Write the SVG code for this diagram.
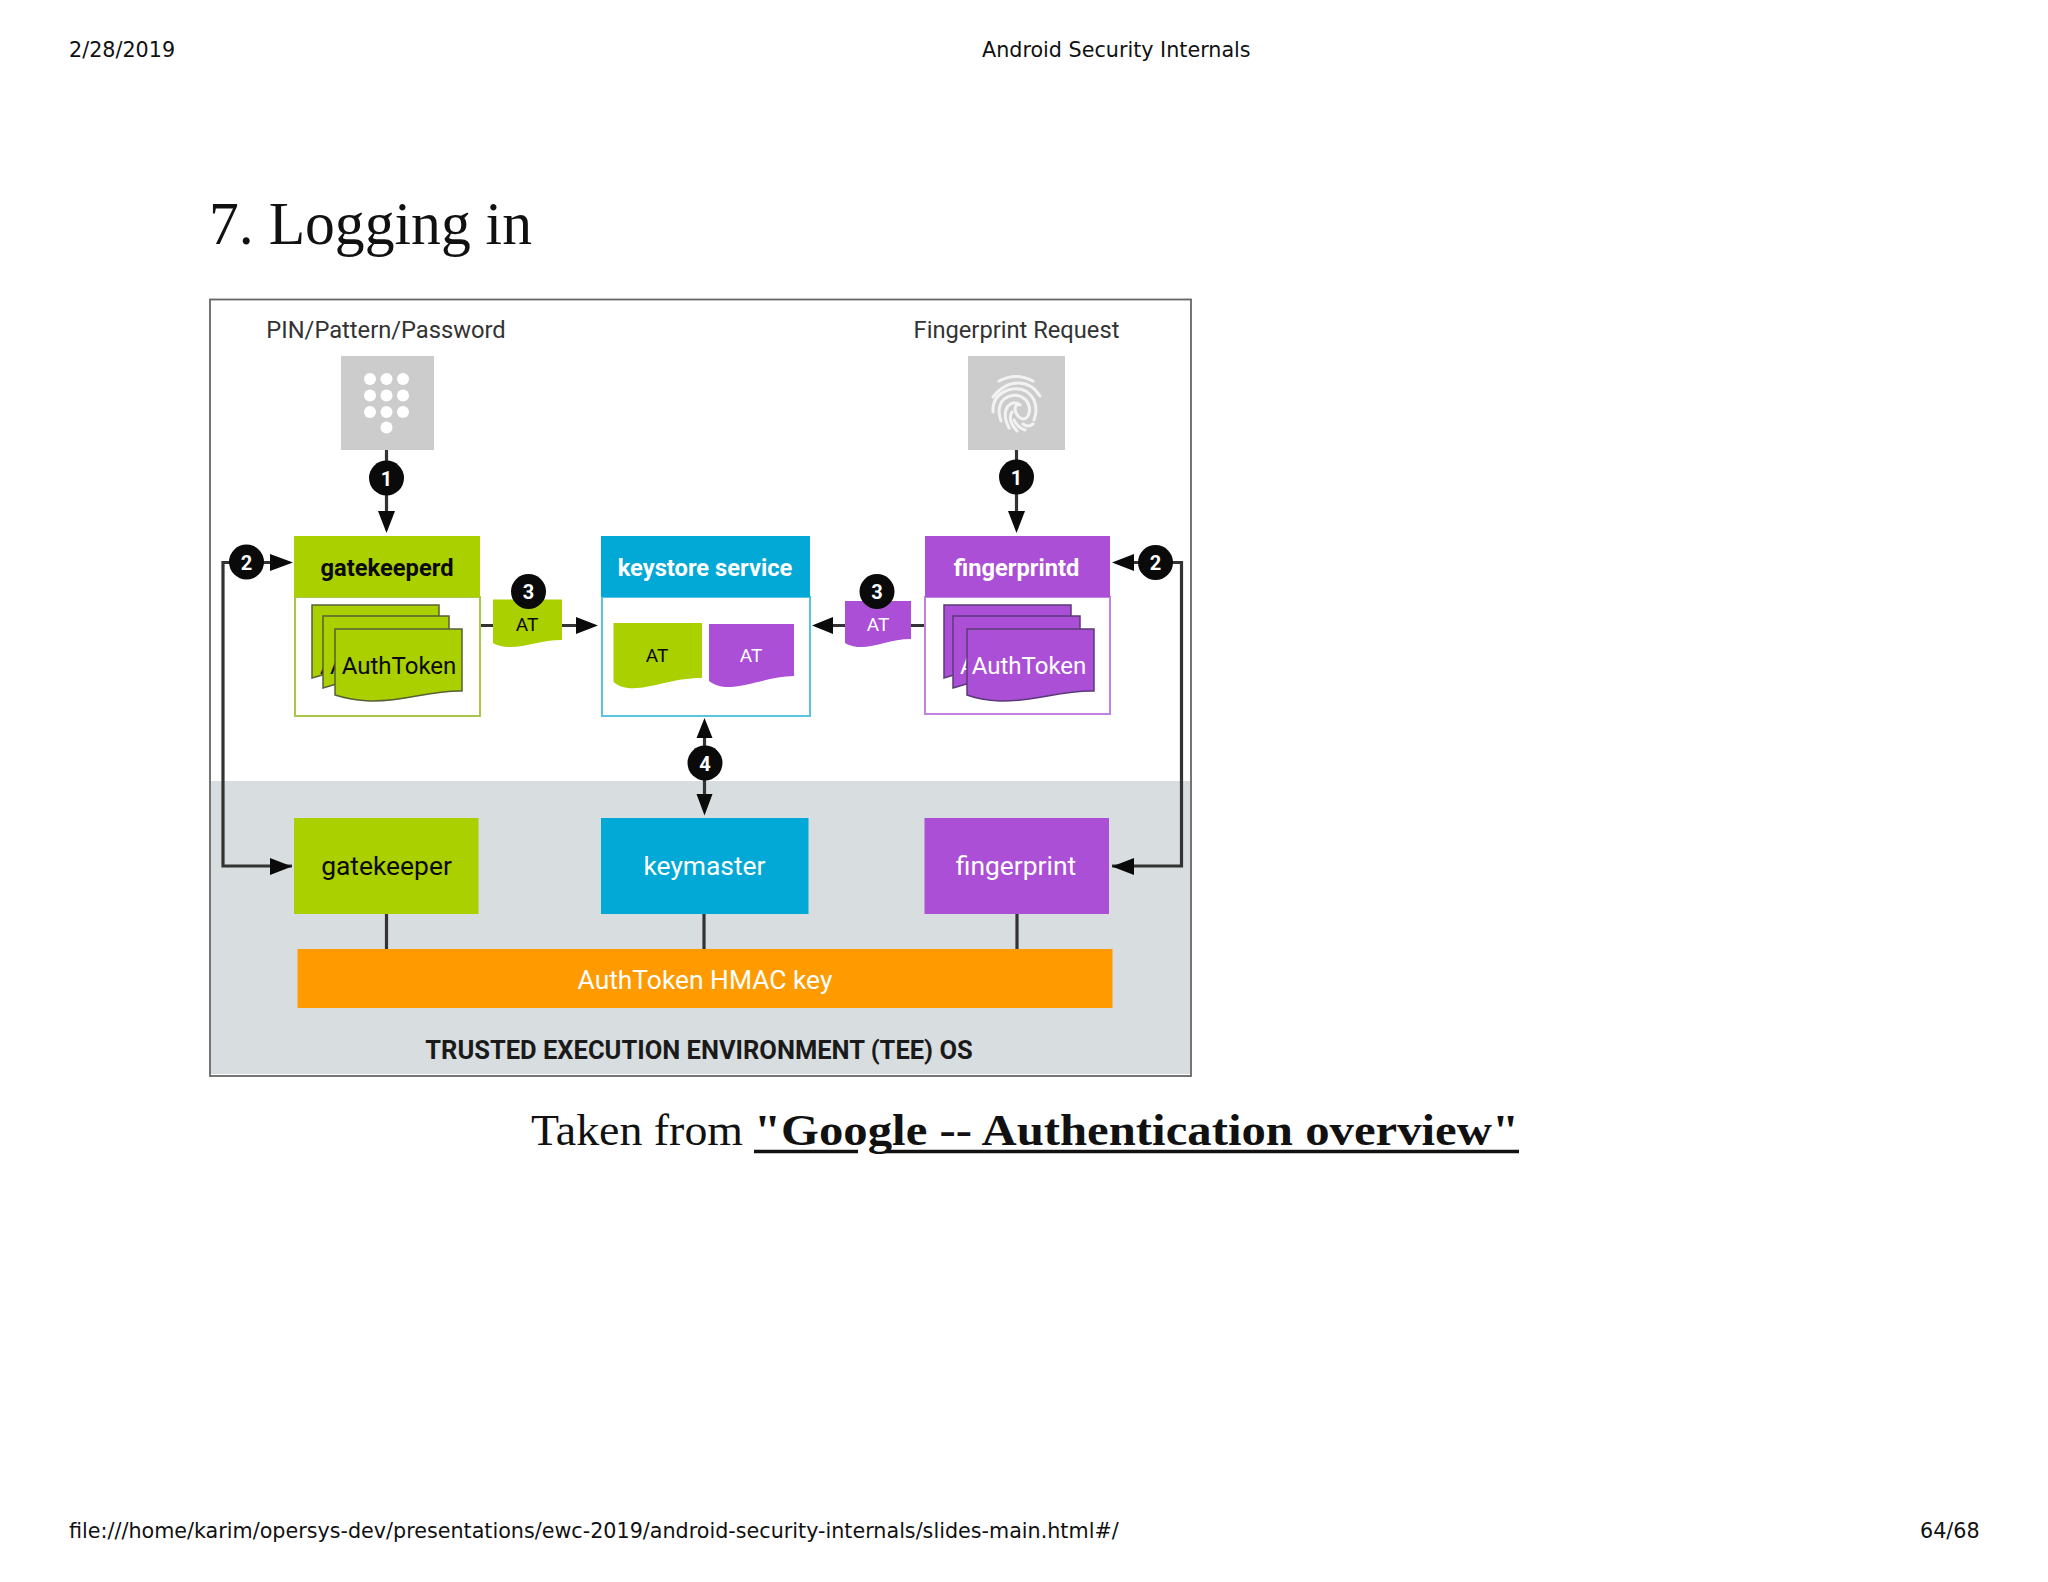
<svg xmlns="http://www.w3.org/2000/svg" width="2048" height="1582" viewBox="0 0 2048 1582">
<style>
.page{font-family:"DejaVu Sans",sans-serif;font-size:20.7px;fill:#111}
.ser{font-family:"Liberation Serif",serif;fill:#111}
.r{font-family:Roboto,"Liberation Sans",sans-serif;text-anchor:middle}
.lbl{font-size:23.7px;fill:#333}
.hd{font-size:23.7px;font-weight:700}
.box{font-size:26.4px}
.tok{font-size:24px}
.at{font-size:19px}
.num{font-size:20px;font-weight:700;fill:#fff}
.w{fill:#fff}.k{fill:#0a0a0a}
.g{fill:#aad000}.b{fill:#02a9d6}.p{fill:#ab4fd6}
.ln{fill:none;stroke:#333;stroke-width:3.2}
.sd{stroke:#55603a;stroke-width:1.5}
.sp{stroke:#5b3a78;stroke-width:1.5}
.fp{fill:none;stroke:#f2f2f2;stroke-width:3;stroke-linecap:round}
</style>
<rect width="2048" height="1582" fill="#fff"/>
<text class="page" x="69" y="57">2/28/2019</text>
<text class="page" x="982" y="57">Android Security Internals</text>
<text class="page" x="69" y="1538">file:///home/karim/opersys-dev/presentations/ewc-2019/android-security-internals/slides-main.html#/</text>
<text class="page" x="1920" y="1538">64/68</text>
<text class="ser" x="209" y="244" font-size="62" textLength="323" lengthAdjust="spacingAndGlyphs">7. Logging in</text>
<g id="frame"><rect x="210" y="299.5" width="981" height="776.5" fill="#fff" stroke="#666" stroke-width="1.8"/>
<rect x="211" y="781" width="979" height="293" fill="#d8dde0"/></g>
<g id="connectors">
<path class="ln" d="M386.500 450V515"/><path class="k" d="M378 511h17l-8.500 22z"/>
<path class="ln" d="M1016.500 450V515"/><path class="k" d="M1008 511h17l-8.500 22z"/>
<path class="ln" d="M292 866H223V562.500H272"/><path class="k" d="M270 554v17l23-8.500zM270 858v17l22-8.500z"/>
<path class="ln" d="M1112 866H1181.500V562.500H1132"/><path class="k" d="M1134 554v17l-22-8.500zM1134 858v17l-22-8.500z"/>
<path class="ln" d="M480 625.500H580"/><path class="k" d="M576 617v17l22-8.500z"/>
<path class="ln" d="M925 625.500H830"/><path class="k" d="M833 617v17l-21-8.500z"/>
<path class="ln" d="M704.500 735V798"/><path class="k" d="M696.500 738h16l-8-20zM696.500 794h16l-8 21.500z"/>
<path class="ln" stroke-width="2.500" d="M386.500 913V949M704 913V949M1017 913V949"/>
</g>
<g id="keypad"><rect x="341" y="356" width="93" height="94" fill="#ccc"/>
<g class="w"><circle cx="370" cy="379" r="6"/><circle cx="386.500" cy="379" r="6"/><circle cx="403" cy="379" r="6"/><circle cx="370" cy="395.500" r="6"/><circle cx="386.500" cy="395.500" r="6"/><circle cx="403" cy="395.500" r="6"/><circle cx="370" cy="412" r="6"/><circle cx="386.500" cy="412" r="6"/><circle cx="403" cy="412" r="6"/><circle cx="386.500" cy="427.500" r="6"/></g></g>
<text class="r lbl" x="386" y="338">PIN/Pattern/Password</text>
<g id="fingerprint-sensor"><rect x="968" y="356" width="97" height="94" fill="#ccc"/>
<path class="fp" d="M999 381Q1016 372 1033 381M993 397Q1004 383 1018 383Q1032 383 1040 396M993 412Q992 396 1008 390Q1026 385 1034 400Q1038 410 1034 420M1001 421Q996 407 1004 399Q1016 391 1026 400Q1032 408 1028 416Q1024 422 1018 416Q1012 408 1018 404M1009 428Q1002 414 1008 406Q1014 400 1020 405M1017 431Q1007 420 1012 412M1025 430Q1017 427 1014 420M1033 424Q1028 428 1023 424"/></g>
<text class="r lbl" x="1016.500" y="338">Fingerprint Request</text>
<g id="gatekeeperd"><rect x="295" y="597" width="185" height="119" class="w" stroke="#a9c64a" stroke-width="2"/><rect x="294" y="536" width="186" height="61" class="g"/>
<text class="r hd k" x="387" y="576">gatekeeperd</text>
<path class="g sd" d="M312 605H439V670H340L312 678z"/>
<text class="r tok k" x="320" y="674" style="text-anchor:start">A</text>
<path class="g sd" d="M323 616H449V680H350L323 688z"/>
<text class="r tok k" x="330" y="674" style="text-anchor:start">A</text>
<path class="g sd" d="M335 629H462V691C430 690 405 702 370 701Q350 700 335 695z"/>
<text class="r tok k" x="399" y="674">AuthToken</text></g>
<g id="keystore"><rect x="602" y="597" width="208" height="119" class="w" stroke="#5cc3df" stroke-width="2"/><rect x="601" y="536" width="209" height="61" class="b"/>
<text class="r hd w" x="705" y="576">keystore service</text>
<path class="g" d="M613.500 623H702V678C670 678 650 690 628 688Q619 687 613.500 682z"/><text class="r at k" x="657" y="662">AT</text>
<path class="p" d="M709 624H794V676C770 676 745 688 725 687Q715 686 709 681z"/><text class="r at w" x="751" y="662">AT</text></g>
<g id="fingerprintd"><rect x="925" y="597" width="185" height="117" class="w" stroke="#c084e0" stroke-width="2"/><rect x="925" y="536" width="185" height="61" class="p"/>
<text class="r hd w" x="1016.500" y="576">fingerprintd</text>
<path class="p sp" d="M944 605H1071V670H970L944 678z"/>
<text class="r tok w" x="952" y="674" style="text-anchor:start">A</text>
<path class="p sp" d="M953 616H1080V680H980L953 688z"/>
<text class="r tok w" x="960" y="674" style="text-anchor:start">A</text>
<path class="p sp" d="M967 629H1094V691C1060 690 1035 702 1000 701Q980 700 967 695z"/>
<text class="r tok w" x="1029" y="674">AuthToken</text></g>
<g id="at-left"><path class="g" d="M493 599.500H562V640C540 640 525 648 507 647Q498 646 493 643z"/><text class="r at k" x="527" y="631">AT</text></g>
<g id="at-right"><path class="p" d="M845 601H911V639C890 639 875 648 858 647Q850 646 845 643z"/><text class="r at w" x="878" y="631">AT</text></g>
<g id="badges">
<circle cx="386.500" cy="478" r="17.500" class="k"/><text class="r num" x="386.500" y="486">1</text>
<circle cx="1016.500" cy="477" r="17.500" class="k"/><text class="r num" x="1016.500" y="485">1</text>
<circle cx="246.500" cy="562" r="17.500" class="k"/><text class="r num" x="246.500" y="570">2</text>
<circle cx="1155.500" cy="562.500" r="17.500" class="k"/><text class="r num" x="1155.500" y="570">2</text>
<circle cx="528.500" cy="591.500" r="17.500" class="k"/><text class="r num" x="528.500" y="599">3</text>
<circle cx="877" cy="591.500" r="17.500" class="k"/><text class="r num" x="877" y="599">3</text>
<circle cx="705" cy="763" r="17.500" class="k"/><text class="r num" x="705" y="771">4</text></g>
<g id="gatekeeper"><rect x="294" y="818" width="184.500" height="96" class="g"/><text class="r box k" x="386.500" y="875">gatekeeper</text></g>
<g id="keymaster"><rect x="601" y="818" width="207.500" height="96" class="b"/><text class="r box w" x="704.500" y="875">keymaster</text></g>
<g id="fingerprint"><rect x="924.500" y="818" width="184.500" height="96" class="p"/><text class="r box w" x="1016" y="875">fingerprint</text></g>
<g id="hmac"><rect x="297.500" y="949" width="815" height="59" fill="#ff9b00"/><text class="r box w" x="705" y="989">AuthToken HMAC key</text></g>
<text class="r" x="699" y="1059" font-size="25.500" font-weight="700" fill="#1a1a1a">TRUSTED EXECUTION ENVIRONMENT (TEE) OS</text>
<g id="caption"><text class="ser" x="531" y="1145" font-size="45" textLength="212" lengthAdjust="spacingAndGlyphs">Taken from</text>
<text class="ser" x="754" y="1145" font-size="45" font-weight="700" textLength="765" lengthAdjust="spacingAndGlyphs">"Google -- Authentication overview"</text>
<path d="M754 1151.500H858M885 1151.500H1519" stroke="#111" stroke-width="3.500"/></g>
</svg>
